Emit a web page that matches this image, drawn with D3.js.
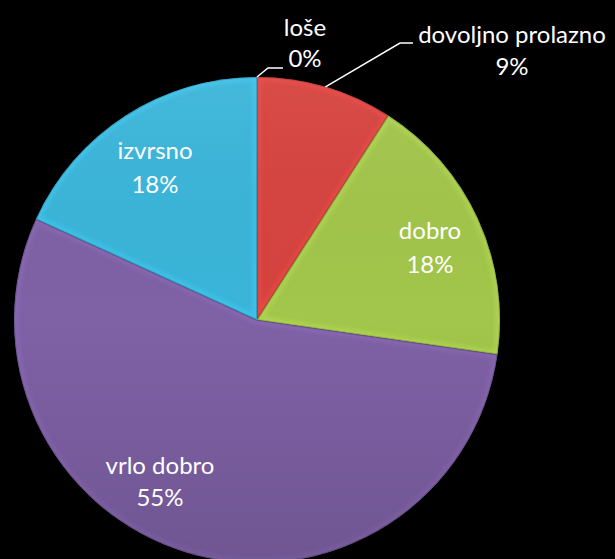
<!DOCTYPE html>
<html><head><meta charset="utf-8">
<script src="https://cdn.jsdelivr.net/npm/d3@7/dist/d3.min.js"></script>
<style>html,body{margin:0;padding:0;background:#000;}svg{display:block;}</style>
</head><body>
<script>
const categories = ["loše", "dovoljno prolazno", "dobro", "vrlo dobro", "izvrsno"];
const counts = [0, 1, 2, 6, 2];
const percentLabels = ["0%", "9%", "18%", "55%", "18%"];
const colors = ["#d6433f", "#d6433f", "#a2c54b", "#7f61a6", "#3ab5d9"];

const W = 615, H = 559, cx = 257, cy = 320, R = 243;
const svg = d3.select("body").append("svg").attr("width", W).attr("height", H);
svg.append("rect").attr("width", W).attr("height", H).attr("fill", "#000");
const defs = svg.append("defs");

const data = categories.map((c, i) => ({cat: c, value: counts[i], pct: percentLabels[i], color: colors[i]}));
const pie = d3.pie().sort(null).value(d => d.value);
const arcs = pie(data);
const arc = d3.arc().innerRadius(0).outerRadius(R);

const sh = defs.append("linearGradient").attr("id", "shade")
  .attr("gradientUnits", "userSpaceOnUse").attr("x1", 0).attr("y1", cy - R).attr("x2", 0).attr("y2", cy + R);
sh.append("stop").attr("offset", 0).attr("stop-color", "#fff").attr("stop-opacity", 0.05);
sh.append("stop").attr("offset", 0.5).attr("stop-color", "#000").attr("stop-opacity", 0.0);
sh.append("stop").attr("offset", 1).attr("stop-color", "#000").attr("stop-opacity", 0.12);

const blur = defs.append("filter").attr("id", "blur").attr("x", "-10%").attr("y", "-10%").attr("width", "120%").attr("height", "120%");
blur.append("feGaussianBlur").attr("stdDeviation", 2);

const visible = arcs.filter(a => a.value > 0);
visible.forEach((a, i) => {
  const id = "clip" + i;
  defs.append("clipPath").attr("id", id).append("path").attr("d", arc(a)).attr("transform", `translate(${cx},${cy})`);
  const sg = svg.append("g").attr("clip-path", `url(#${id})`);
  const inner = sg.append("g").attr("transform", `translate(${cx},${cy})`);
  inner.append("path").attr("d", arc(a)).attr("fill", a.data.color);
  inner.append("path").attr("d", arc(a)).attr("fill", "none")
    .attr("stroke", d3.color(a.data.color).brighter(0.35)).attr("stroke-width", 9).attr("filter", "url(#blur)").attr("opacity", 0.55);
  inner.append("path").attr("d", arc(a)).attr("fill", "none")
    .attr("stroke", d3.color(a.data.color).darker(0.8)).attr("stroke-width", 2).attr("opacity", 0.6);
  sg.append("rect").attr("x", cx - R).attr("y", cy - R).attr("width", 2 * R).attr("height", 2 * R).attr("fill", "url(#shade)");
});

const font = "Lato, 'Open Sans', sans-serif";
const labelPos = {
  "loše": [305, 36, 67],
  "dovoljno prolazno": [512, 43, 75],
  "dobro": [430, 239, 273],
  "vrlo dobro": [160, 474, 506],
  "izvrsno": [155, 159, 193]
};
arcs.forEach(a => {
  const p = labelPos[a.data.cat];
  const t = svg.append("text").attr("text-anchor", "middle").attr("fill", "#fff")
    .attr("font-family", font).attr("font-size", 24);
  t.append("tspan").attr("x", p[0]).attr("y", p[1]).text(a.data.cat);
  t.append("tspan").attr("x", p[0]).attr("y", p[2]).text(a.data.pct);
});

const a0 = arcs[0];
const pt0 = d3.pointRadial(a0.startAngle, R);
svg.append("polyline").attr("fill", "none").attr("stroke", "#fff").attr("stroke-width", 1.5)
  .attr("points", [[cx + pt0[0], cy + pt0[1]], [268, 68], [283, 68]].map(p => p.join(",")).join(" "));
const a1 = arcs[1];
const pt1 = d3.pointRadial((a1.startAngle + a1.endAngle) / 2, R);
svg.append("polyline").attr("fill", "none").attr("stroke", "#fff").attr("stroke-width", 1.5)
  .attr("points", [[cx + pt1[0], cy + pt1[1]], [400, 43], [413, 43]].map(p => p.join(",")).join(" "));
</script>
</body></html>
